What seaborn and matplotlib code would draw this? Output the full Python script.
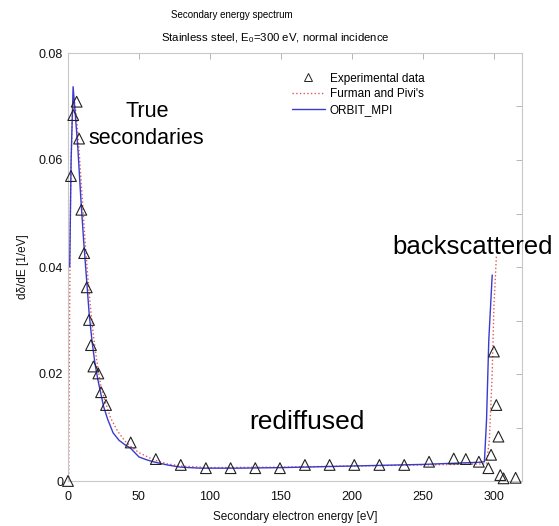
import numpy as np
import pandas as pd
import matplotlib

matplotlib.use('Agg')
import matplotlib.pyplot as plt
import seaborn as sns
from matplotlib.lines import Line2D
from matplotlib.ticker import MultipleLocator

# experimental points (triangles)
exp_energy = [0, 2.1, 3.7, 6.1, 7.8, 9.4, 11.4, 13.2, 14.8, 16.2, 17.9, 21.4, 23.3, 26.8,
              44.2, 61.9, 79.5, 97.2, 114.6, 132, 149.4, 167, 184.4, 201.8, 219.5, 237,
              254.5, 271.9, 280.4, 289.6, 296.3, 298.2, 300.2, 301.9, 303.4, 304.7, 307.0, 315.5]
exp_value = [0.0, 0.057, 0.0684, 0.0709, 0.064, 0.0507, 0.0426, 0.0362, 0.0301, 0.0254, 0.0214,
             0.0201, 0.0166, 0.0142, 0.0072, 0.0041, 0.0030, 0.0024, 0.0024, 0.0024, 0.0024,
             0.0030, 0.0030, 0.0030, 0.0030, 0.0030, 0.0036, 0.0042, 0.0041, 0.0036, 0.0024,
             0.0049, 0.0242, 0.0142, 0.0083, 0.0011, 0.0005, 0.0006]

# Furman and Pivi's model (red dotted)
fp_energy = [0.5, 1.0, 1.5, 2.0, 3.0, 4.2, 6, 8, 10, 12, 14, 16, 18, 20, 23, 26, 30, 35, 40,
             45, 50, 60, 70, 80, 100, 150, 200, 250, 295, 297, 299, 300.2, 302]
fp_value = [0.0, 0.025, 0.045, 0.058, 0.068, 0.0715, 0.068, 0.061, 0.053, 0.045, 0.038, 0.032,
            0.027, 0.023, 0.018, 0.015, 0.0118, 0.0093, 0.0075, 0.0063, 0.0053, 0.0040, 0.0032,
            0.0028, 0.0025, 0.0026, 0.0028, 0.0030, 0.0032, 0.0077, 0.0202, 0.0326, 0.0423]

# ORBIT_MPI (blue solid)
orb_energy = [1.2, 2.2, 3.6, 5, 7, 9, 11, 13, 15, 17, 19, 21, 22.6, 25, 28, 31.8, 36, 40, 43.8,
              50, 55, 60, 70, 79, 93, 120, 150, 200, 250, 290, 293.5, 295, 296.6, 299]
orb_value = [0.040, 0.060, 0.0737, 0.069, 0.062, 0.053, 0.045, 0.038, 0.031, 0.026, 0.022,
             0.019, 0.017, 0.014, 0.0115, 0.009, 0.0076, 0.0068, 0.0062, 0.0045, 0.0040, 0.0036,
             0.0030, 0.0026, 0.0024, 0.0024, 0.0025, 0.0028, 0.0031, 0.0035, 0.0036, 0.0114,
             0.0264, 0.0385]

exp_df = pd.DataFrame({'E': exp_energy, 'val': exp_value})
fp_df = pd.DataFrame({'E': fp_energy, 'val': fp_value})
orb_df = pd.DataFrame({'E': orb_energy, 'val': orb_value})

sns.set_theme(style='white')
plt.rcParams['font.family'] = ['Liberation Sans', 'DejaVu Sans']
plt.rcParams['mathtext.fontset'] = 'custom'
plt.rcParams['mathtext.rm'] = 'Liberation Sans'
plt.rcParams['text.color'] = 'black'
plt.rcParams['axes.labelcolor'] = '#111111'

fig = plt.figure(figsize=(5.59, 5.26), dpi=100)
ax = fig.add_axes([68 / 559, 45 / 526, 454 / 559, 428 / 526])

sns.lineplot(data=fp_df, x='E', y='val', ax=ax, sort=False, estimator=None,
             color='#e05a5a', linestyle=':', linewidth=1.0)
sns.lineplot(data=orb_df, x='E', y='val', ax=ax, sort=False, estimator=None,
             color='#3a3ad0', linestyle='-', linewidth=1.0)
sns.scatterplot(data=exp_df, x='E', y='val', ax=ax, marker='^', s=60,
                facecolors='none', edgecolor='#222222', linewidth=0.8, zorder=5, clip_on=False)

ax.set_xlim(0, 320)
ax.set_ylim(0, 0.08)
ax.set_xticks([0, 50, 100, 150, 200, 250, 300])
ax.set_xticklabels(['0', '50', '100', '150', '200', '250', '300'])
ax.set_yticks([0, 0.02, 0.04, 0.06, 0.08])
ax.set_yticklabels(['0', '0.02', '0.04', '0.06', '0.08'])
ax.yaxis.set_minor_locator(MultipleLocator(0.01))
ax.tick_params(axis='both', which='both', direction='in', colors='#aaaaaa',
               labelcolor='#111111', labelsize=9, top=True, right=True, length=4, width=0.6)
ax.tick_params(axis='x', pad=7)
for sp in ax.spines.values():
    sp.set_color('#c8c8c8')
    sp.set_linewidth(0.8)

ax.set_xlabel('Secondary electron energy [eV]', fontsize=8.5, labelpad=6)
ax.set_ylabel('dδ/dE [1/eV]', fontsize=8.5, labelpad=7)

fig.text(232 / 559, 1 - 15 / 526, 'Secondary energy spectrum', ha='center', va='center', fontsize=7)
fig.text(275 / 559, 1 - 38 / 526, r'Stainless steel, E$_\mathregular{0}$=300 eV, normal incidence',
         ha='center', va='center', fontsize=8.2)

ax.text(55.7, 0.0690, 'True', ha='center', va='center', fontsize=15.5)
ax.text(55.5, 0.0641, 'secondaries', ha='center', va='center', fontsize=15.5)
ax.text(168.5, 0.0110, 'rediffused', ha='center', va='center', fontsize=19)
ax.text(285, 0.0438, 'backscattered', ha='center', va='center', fontsize=18.5, clip_on=False)

handles = [
    Line2D([], [], marker='^', linestyle='none', markerfacecolor='none',
           markeredgecolor='#222222', markersize=6, markeredgewidth=0.7),
    Line2D([], [], color='#e05a5a', linestyle=':', linewidth=1.0),
    Line2D([], [], color='#3a3ad0', linestyle='-', linewidth=1.0),
]
ax.legend(handles, ['Experimental data', "Furman and Pivi's", 'ORBIT_MPI'],
          loc='upper left', bbox_to_anchor=(0.48, 0.968), frameon=False, fontsize=8.5,
          handlelength=2.8, handletextpad=0.4, labelspacing=0.3, borderpad=0)

plt.savefig('out.png', dpi=100)
plt.close(fig)
